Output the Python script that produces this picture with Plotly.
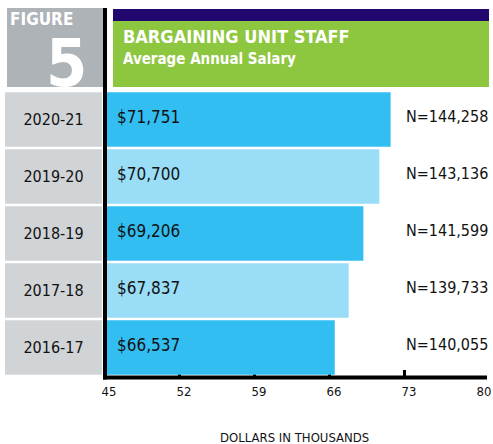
import plotly.graph_objects as go

W, H = 493, 444
def px(x): return x / W
def py(y): return 1 - y / H

years = ["2016-17", "2017-18", "2018-19", "2019-20", "2020-21"]
salary_k = [66.537, 67.837, 69.206, 70.700, 71.751]
salary_labels = ["$66,537", "$67,837", "$69,206", "$70,700", "$71,751"]
n_labels = ["N=140,055", "N=139,733", "N=141,599", "N=143,136", "N=144,258"]
tick_vals = [45, 52, 59, 66, 73, 80]
AXIS_MIN = 45

DARK = "#33BEF2"
LIGHT = "#9ADDF7"
bar_colors = [DARK, LIGHT, DARK, LIGHT, DARK]
FONT = "DejaVu Sans Condensed, Liberation Sans Narrow, Arial Narrow, sans-serif"

fig = go.Figure()
# gray year boxes
fig.add_trace(go.Bar(
    x=[1] * len(years), y=years, orientation="h", xaxis="x2", yaxis="y",
    marker=dict(color="#D1D4D7", line=dict(width=0)),
    text=years, textposition="inside", insidetextanchor="middle",
    textfont=dict(family=FONT, size=16, color="#111111"),
    hoverinfo="skip", showlegend=False,
))
# salary bars starting at the axis minimum
fig.add_trace(go.Bar(
    x=[v - AXIS_MIN for v in salary_k], y=years, orientation="h", base=AXIS_MIN,
    marker=dict(color=bar_colors, line=dict(width=0)),
    showlegend=False,
))

annotations = []
for y, lab, n in zip(years, salary_labels, n_labels):
    annotations.append(dict(x=AXIS_MIN, y=y, xref="x", yref="y", text=lab, showarrow=False,
                            xanchor="left", yanchor="middle", xshift=11, yshift=3,
                            font=dict(family=FONT, size=17, color="#111111")))
    annotations.append(dict(x=px(490), y=y, xref="paper", yref="y", text=n, showarrow=False,
                            xanchor="right", yanchor="middle", yshift=3,
                            font=dict(family=FONT, size=16, color="#111111")))

annotations += [
    dict(x=px(8), y=py(19), xref="paper", yref="paper", text="<b>FIGURE</b>", showarrow=False,
         xanchor="left", yanchor="middle", font=dict(family=FONT, size=17, color="white")),
    dict(x=px(89), y=py(63), xref="paper", yref="paper", text="<b>5</b>", showarrow=False,
         xanchor="right", yanchor="middle", font=dict(family=FONT, size=66, color="white")),
    dict(x=px(121), y=py(36), xref="paper", yref="paper", text="<b>BARGAINING UNIT STAFF</b>",
         showarrow=False, xanchor="left", yanchor="middle",
         font=dict(family=FONT, size=18, color="white")),
    dict(x=px(121), y=py(59), xref="paper", yref="paper", text="<b>Average Annual Salary</b>",
         showarrow=False, xanchor="left", yanchor="middle",
         font=dict(family=FONT, size=15, color="white")),
    dict(x=px(294), y=py(437), xref="paper", yref="paper", text="DOLLARS IN THOUSANDS",
         showarrow=False, xanchor="center", yanchor="middle",
         font=dict(family=FONT, size=13, color="#111111")),
]

shapes = [
    dict(type="rect", xref="paper", yref="paper", x0=px(7), x1=px(103), y0=py(87), y1=py(8),
         fillcolor="#AEB3B7", line=dict(width=0), layer="below"),
    dict(type="rect", xref="paper", yref="paper", x0=px(113), x1=px(489), y0=py(21), y1=py(9),
         fillcolor="#22086E", line=dict(width=0), layer="below"),
    dict(type="rect", xref="paper", yref="paper", x0=px(113), x1=px(489), y0=py(87), y1=py(21),
         fillcolor="#8DC63F", line=dict(width=0), layer="below"),
    # vertical axis line
    dict(type="line", xref="paper", yref="paper", x0=px(105), x1=px(105), y0=py(379.5), y1=py(8),
         line=dict(color="black", width=4), layer="above"),
    # horizontal axis line (extends past the last tick)
    dict(type="line", xref="paper", yref="paper", x0=px(103), x1=px(487), y0=py(377.5), y1=py(377.5),
         line=dict(color="black", width=4), layer="above"),
]

fig.update_layout(
    width=W, height=H, margin=dict(l=0, r=0, t=0, b=0),
    paper_bgcolor="white", plot_bgcolor="rgba(0,0,0,0)",
    barmode="overlay", bargap=0.045,
    xaxis=dict(domain=[px(104), px(479)], range=[45, 80], tickvals=tick_vals,
               ticks="inside", ticklen=6, tickwidth=3, tickcolor="black",
               showline=False, showgrid=False, zeroline=False,
               layer="below traces", ticklabelshift=5, ticklabelstandoff=6, automargin=False,
               tickfont=dict(family=FONT, size=13, color="#111111"), fixedrange=True),
    xaxis2=dict(domain=[px(5), px(102)], range=[0, 1], visible=False, fixedrange=True),
    yaxis=dict(domain=[py(376), py(91)], categoryorder="array", categoryarray=years,
               showticklabels=False, showgrid=False, zeroline=False, showline=False,
               automargin=False, fixedrange=True),
    annotations=annotations, shapes=shapes,
)

fig.write_html("out.html", config={"displayModeBar": False},
               post_script="document.body.style.margin='0px';document.body.style.overflow='hidden';")
